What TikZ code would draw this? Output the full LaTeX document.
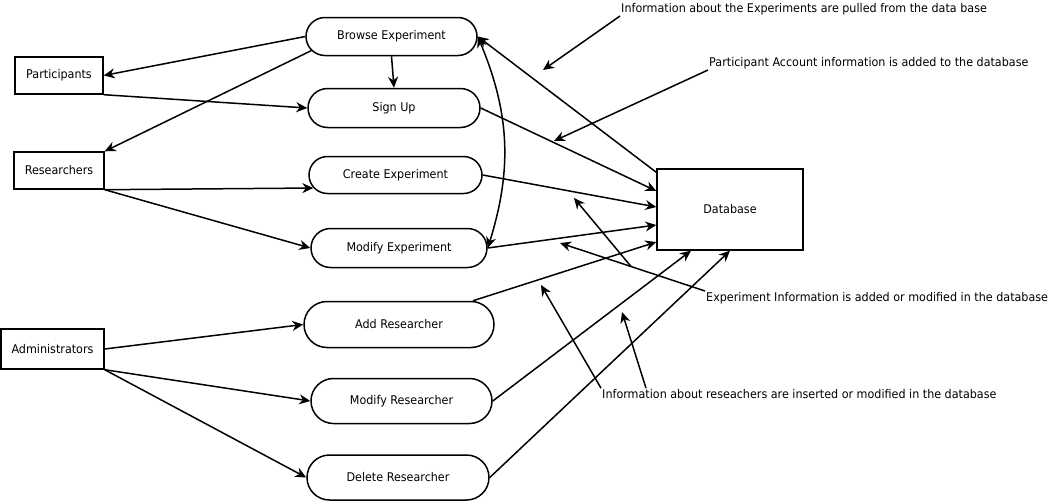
\documentclass[tikz,border=0pt]{standalone}
\usepackage{fontspec}
\setmainfont{DejaVu Sans}[FakeStretch=0.93]
\usepackage{tikz}
\usetikzlibrary{arrows.meta,calc,shapes.misc}
\definecolor{blkInk}{HTML}{000000}
\newcommand\diagfont{\fontsize{12}{14}\selectfont}
\tikzset{
  every picture/.append style={font=\diagfont},
  actor/.style  = {draw=blkInk, line width=1.4pt, fill=white, inner sep=0pt},
  proc/.style   = {rounded rectangle, draw=blkInk, line width=1.5pt, fill=white,
                   inner sep=0pt},
  store/.style  = {actor, minimum width=146pt, minimum height=81pt},
  flow/.style   = {-{Stealth[length=11pt, width=10pt]}, line width=1.5pt},
  flow2/.style  = {{Stealth[length=11pt, width=10pt]}-{Stealth[length=11pt, width=10pt]},
                   line width=1.5pt},
  note/.style   = {anchor=west, inner sep=1pt},
}

\begin{document}
\begin{tikzpicture}[x=1pt, y=-1pt]
  \useasboundingbox (0,0) rectangle (1051,501);
  % external entities
  \node[actor, minimum width=88pt,  minimum height=37pt] (part)  at (59,75.5)  {Participants};
  \node[actor, minimum width=90pt,  minimum height=37pt] (res)   at (59,170.5) {Researchers};
  \node[actor, minimum width=103pt, minimum height=40pt] (admin) at (52.5,349) {Administrators};
  \node[store] (db) at (730,209.5) {Database};
  % processes
  \node[proc, minimum width=171pt, minimum height=38pt] (browse) at (391.5,36.5)  {Browse Experiment};
  \node[proc, minimum width=172pt, minimum height=39pt] (signup) at (394,108) {Sign Up};
  \node[proc, minimum width=173pt, minimum height=37pt] (create) at (395.5,175) {Create Experiment};
  \node[proc, minimum width=176pt, minimum height=39pt] (modexp) at (399,248) {Modify Experiment};
  \node[proc, minimum width=190pt, minimum height=46pt] (addres) at (399,324.5)   {Add Researcher};
  \node[proc, minimum width=181pt, minimum height=45pt] (modres) at (401.5,401) {Modify Researcher};
  \node[proc, minimum width=182pt, minimum height=45pt] (delres) at (398,477.5) {Delete Researcher};

  % left side flows
  \draw[flow] (browse.west) -- (part.east);
  \draw[flow] (browse.190) -- (res.north east);
  \draw[flow] (browse.south) -- (signup.north);
  \draw[flow] (part.south east) -- (signup.west);
  \draw[flow] (res.south east) -- (create.189);
  \draw[flow] (res.south east) -- (modexp.west);
  \draw[flow] (admin.east) -- (addres.west);
  \draw[flow] (admin.south east) -- (modres.west);
  \draw[flow] (admin.south east) -- (delres.west);
  \draw[flow2] (browse.east) to[bend left=20] (modexp.east);

  % flows to and from the database
  \draw[flow] ([yshift=-4pt]db.north west) -- (browse.east);
  \draw[flow] (signup.east) -- ([yshift=18.5pt]db.west);
  \draw[flow] (create.east) -- ([yshift=2.5pt]db.west);
  \draw[flow] (modexp.east) -- ([yshift=-15.5pt]db.west);
  \draw[flow] ([xshift=74pt]addres.north) -- ([yshift=-32.5pt]db.west);
  \draw[flow] (modres.east) -- ([xshift=-39pt]db.south);
  \draw[flow] (delres.east) -- (db.south);

  % annotations
  \node[note] (n1) at (620,9)   {Information about the Experiments are pulled from the data base};
  \node[note] (n2) at (708,63)  {Participant Account information is added to the database};
  \node[note] (n3) at (705,298) {Experiment Information is added or modified in the database};
  \node[note] (n4) at (601,394) {Information about reseachers are inserted or modified in the database};
  \coordinate (t1)  at (543,70);
  \coordinate (t2)  at (554,141);
  \coordinate (t3a) at (560,243);
  \coordinate (t3b) at (574,198);
  \coordinate (t4a) at (541,285);
  \coordinate (t4b) at (622,312);
  \draw[flow] (n1.south west) -- (t1);
  \draw[flow] (n2.south west) -- (t2);
  \draw[flow] (n3.north west) -- (t3a);
  \coordinate (b3) at ($(n3.north west)!0.51!(t3a)$);
  \draw[flow] (b3) -- (t3b);
  \draw[flow] (n4.north west) -- (t4a);
  \draw[flow] ([xshift=45pt]n4.north west) -- (t4b);
\end{tikzpicture}
\end{document}
